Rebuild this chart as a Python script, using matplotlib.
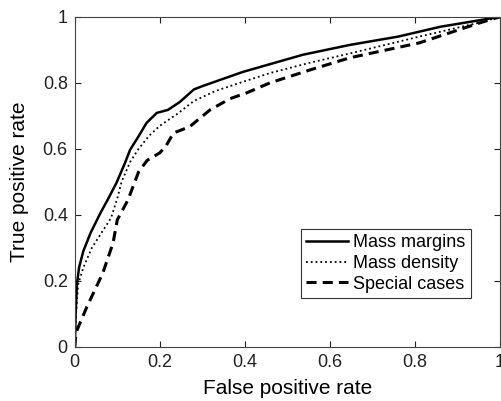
import matplotlib
matplotlib.use('Agg')
import matplotlib.pyplot as plt

plt.rcParams['font.family'] = ['Liberation Sans', 'DejaVu Sans']

# ROC curves
fpr_margins = [0, 0.002, 0.005, 0.01, 0.02, 0.037, 0.06, 0.077, 0.098, 0.118, 0.13,
               0.149, 0.169, 0.193, 0.219, 0.247, 0.28, 0.3, 0.395, 0.536, 0.647,
               0.76, 0.86, 1.0]
tpr_margins = [0, 0.1, 0.19, 0.24, 0.29, 0.345, 0.405, 0.445, 0.497, 0.557, 0.597,
               0.636, 0.679, 0.709, 0.718, 0.742, 0.78, 0.79, 0.833, 0.885, 0.915,
               0.94, 0.97, 1.0]

fpr_density = [0, 0.003, 0.008, 0.02, 0.04, 0.06, 0.085, 0.1, 0.11, 0.13, 0.15,
               0.175, 0.2, 0.24, 0.28, 0.33, 0.4, 0.46, 0.55, 0.65, 0.81, 0.95, 1.0]
tpr_density = [0, 0.1, 0.19, 0.24, 0.3, 0.34, 0.39, 0.45, 0.5, 0.56, 0.6,
               0.64, 0.67, 0.705, 0.745, 0.775, 0.805, 0.83, 0.86, 0.89, 0.94, 0.982, 1.0]

fpr_special = [0, 0.002, 0.005, 0.028, 0.066, 0.09, 0.1, 0.125, 0.15, 0.17, 0.2,
               0.215, 0.232, 0.27, 0.318, 0.365, 0.405, 0.459, 0.553, 0.647, 0.81,
               0.953, 1.0]
tpr_special = [0, 0.03, 0.05, 0.12, 0.224, 0.315, 0.385, 0.445, 0.53, 0.565, 0.588,
               0.61, 0.648, 0.667, 0.718, 0.752, 0.77, 0.8, 0.839, 0.876, 0.921,
               0.982, 1.0]

ticks = [0, 0.2, 0.4, 0.6, 0.8, 1]
tick_labels = ['0', '0.2', '0.4', '0.6', '0.8', '1']

fig = plt.figure(figsize=(5.02, 4.01), dpi=100)
ax = fig.add_axes([0.149, 0.135, 0.847, 0.823])

ax.plot(fpr_margins, tpr_margins, '-', color='black', linewidth=1.8, label='Mass margins')
ax.plot(fpr_density, tpr_density, ':', color='black', linewidth=1.3, label='Mass density')
ax.plot(fpr_special, tpr_special, '--', color='black', linewidth=2.2,
        dashes=(3.3, 2.0), label='Special cases')

ax.set_xlim(0, 1)
ax.set_ylim(0, 1)
ax.set_xticks(ticks)
ax.set_xticklabels(tick_labels)
ax.set_yticks(ticks)
ax.set_yticklabels(tick_labels)
ax.tick_params(direction='in', length=4, width=0.8, top=True, right=True,
               labelsize=13, pad=5, colors='#222222')
for sp in ax.spines.values():
    sp.set_color('#444444')
    sp.set_linewidth(0.8)

ax.set_xlabel('False positive rate', fontsize=15, labelpad=6)
ax.set_ylabel('True positive rate', fontsize=15, labelpad=10)

leg = ax.legend(loc='lower right', bbox_to_anchor=(0.932, 0.148), borderaxespad=0,
                fontsize=13, fancybox=False, frameon=True, handlelength=2.3,
                handletextpad=0.3, labelspacing=0.2, borderpad=0.3)
leg.get_frame().set_edgecolor('black')
leg.get_frame().set_linewidth(0.8)

plt.savefig('out.png', dpi=100)
